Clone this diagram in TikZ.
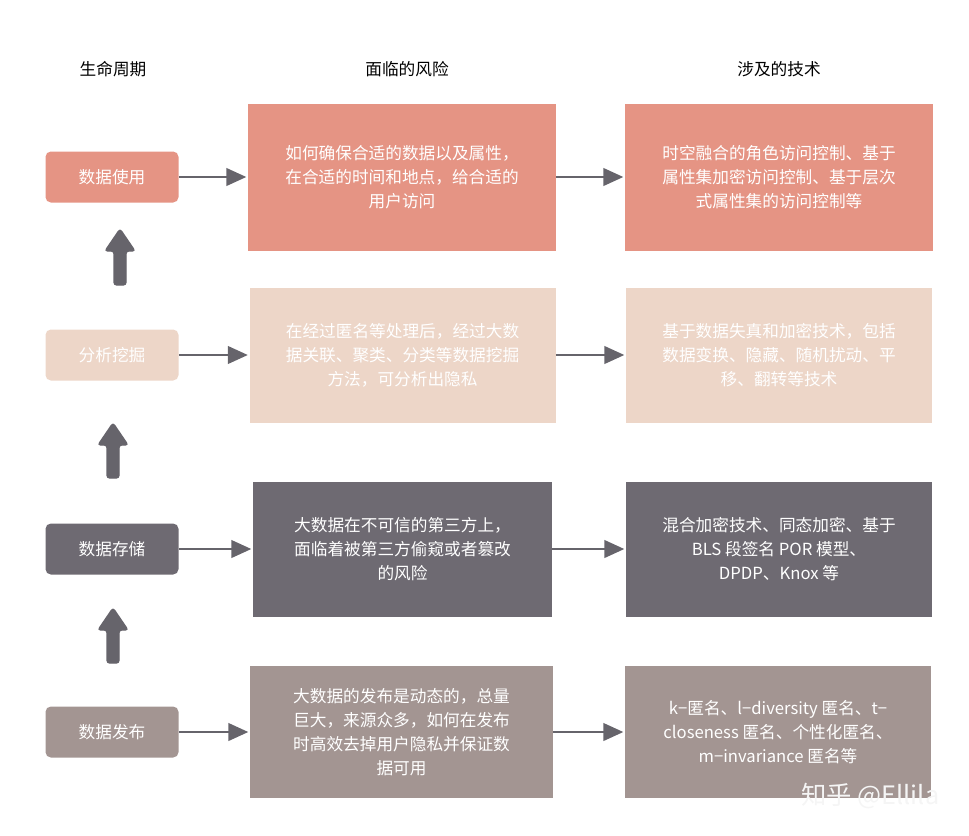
\documentclass[tikz,border=0pt]{standalone}
\usepackage{fontspec}
\setmainfont{Noto Sans CJK SC}
\usetikzlibrary{arrows.meta}
\definecolor{cA}{HTML}{E59484}
\definecolor{cB}{HTML}{EDD6C8}
\definecolor{cC}{HTML}{6E6A72}
\definecolor{cD}{HTML}{A39592}
\definecolor{arr}{HTML}{66646B}
\tikzset{
  lbox/.style={minimum width=133*0.75pt, minimum height=51*0.75pt, rounded corners=4pt, text=white, font=\fontsize{12.5pt}{15pt}\selectfont, inner sep=0pt},
  bbox/.style={minimum width=306*0.75pt, minimum height=135*0.75pt, text=white, font=\fontsize{12.5pt}{18pt}\selectfont, align=center, inner sep=0pt},
  hdr/.style={font=\fontsize{12.5pt}{15pt}\selectfont, text=black},
  conn/.style={arr, line width=2.2pt, -{Triangle[length=15pt,width=13pt]}, shorten >=1pt},
  up/.style={fill=arr, draw=arr, line width=1pt, rounded corners=2pt}
}
\begin{document}
\begin{tikzpicture}[x=0.75pt,y=-0.75pt]
\useasboundingbox (0,0) rectangle (969,835);
\node[hdr] (h1) at (113,69) {生命周期};
\node[hdr] (h2) at (407,69) {面临的风险};
\node[hdr] (h3) at (779,69) {涉及的技术};

\node[lbox, fill=cA] (l1) at (112,177) {数据使用};
\node[lbox, fill=cB] (l2) at (112,355) {分析挖掘};
\node[lbox, fill=cC] (l3) at (112,549) {数据存储};
\node[lbox, fill=cD] (l4) at (112,732) {数据发布};

\node[bbox, fill=cA, minimum height=147*0.75pt, minimum width=308*0.75pt] (m1) at (402,177) {如何确保合适的数据以及属性，\\在合适的时间和地点，给合适的\\用户访问};
\node[bbox, fill=cB] (m2) at (402.5,355) {在经过匿名等处理后，经过大数\\据关联、聚类、分类等数据挖掘\\方法，可分析出隐私};
\node[bbox, fill=cC, minimum width=299*0.75pt] (m3) at (402.5,549) {大数据在不可信的第三方上，\\面临着被第三方偷窥或者篡改\\的风险};
\node[bbox, fill=cD, minimum height=132*0.75pt, minimum width=303*0.75pt] (m4) at (401.5,732) {大数据的发布是动态的，总量\\巨大，来源众多，如何在发布\\时高效去掉用户隐私并保证数\\据可用};

\node[bbox, fill=cA, minimum height=147*0.75pt, minimum width=308*0.75pt] (r1) at (779,177) {时空融合的角色访问控制、基于\\属性集加密访问控制、基于层次\\式属性集的访问控制等};
\node[bbox, fill=cB] (r2) at (779,355) {基于数据失真和加密技术，包括\\数据变换、隐藏、随机扰动、平\\移、翻转等技术};
\node[bbox, fill=cC] (r3) at (779,549) {混合加密技术、同态加密、基于\\BLS 段签名 POR 模型、\\DPDP、Knox 等};
\node[bbox, fill=cD, minimum height=132*0.75pt] (r4) at (778,732) {k−匿名、l−diversity 匿名、t−\\closeness 匿名、个性化匿名、\\m−invariance 匿名等};

\foreach \a/\b in {l1/m1,l2/m2,l3/m3,l4/m4,m1/r1,m2/r2,m3/r3,m4/r4}
  \draw[conn] (\a.east) -- (\b.west);

% block up arrows
\foreach \x/\yt/\yb in {120/229/285, 113/423/478, 113/608/663}{
  \filldraw[up] (\x-6,\yb) -- (\x+6,\yb) -- (\x+6,\yt+22) -- (\x+15,\yt+22) -- (\x,\yt) -- (\x-15,\yt+22) -- (\x-6,\yt+22) -- cycle;
}

\node[font=\fontsize{19pt}{22pt}\selectfont, text=white!92!gray, anchor=east] (wm) at (944,796) {知乎 @Ellila};
\end{tikzpicture}
\end{document}
